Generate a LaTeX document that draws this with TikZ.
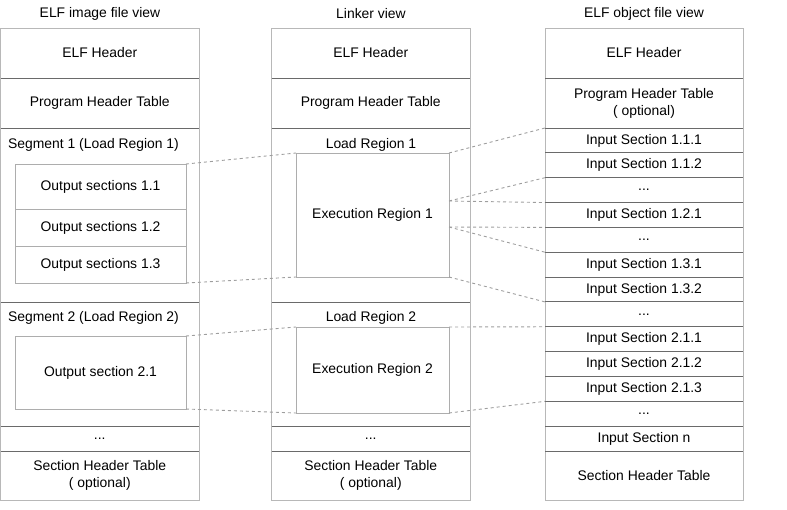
\documentclass[tikz,border=0pt]{standalone}
\usepackage{fontspec}
\setmainfont{Liberation Sans}
\definecolor{edgegray}{HTML}{B8B8B8}
\definecolor{sepgray}{HTML}{6A6A6A}
\definecolor{boxgray}{HTML}{ADADAD}
\definecolor{dashgray}{HTML}{9E9E9E}
% three dots used as filler rows
\newcommand\rowdots{...}
\begin{document}
\begin{tikzpicture}[x=1pt,y=-1pt,
  every node/.style={font=\fontsize{13.9}{17}\selectfont, text=black},
  colbox/.style={rectangle, draw=edgegray, line width=1pt, anchor=north west,
    inner sep=0pt, outer sep=0pt, align=center},
  leftcol/.style={colbox, minimum width=198.5pt},
  midcol/.style={colbox, minimum width=198.5pt},
  rightcol/.style={colbox, minimum width=198pt},
  innerbox/.style={rectangle, draw=boxgray, line width=1pt, anchor=north west,
    inner sep=0pt, outer sep=0pt, align=center},
  sepline/.style={draw=sepgray, line width=1pt},
  mapline/.style={draw=dashgray, line width=0.9pt, dash pattern=on 3pt off 3pt},
  heading/.style={inner sep=0pt}
]
\useasboundingbox (0,0) rectangle (787,509);

% column headings
\node[heading] (t1) at (100,14) {ELF image file view};
\node[heading] (t2) at (371,14) {Linker view};
\node[heading] (t3) at (644,14) {ELF object file view};

% ---------------- ELF image file view ----------------
\node[leftcol, minimum height=50pt]  (eh1)  at (0.5,28)  {ELF Header};
\node[leftcol, minimum height=50pt]  (pht1) at (0.5,78)  {Program Header Table};
\node[leftcol, minimum height=174pt] (seg1) at (0.5,128) {};
\node[leftcol, minimum height=124pt] (seg2) at (0.5,302) {};
\node[leftcol, minimum height=25pt]  (dots1) at (0.5,426) {\rowdots};
\node[leftcol, minimum height=49pt]  (sht1) at (0.5,451) {Section Header Table\\( optional)};
\node[heading] (seg1t) at (93.5,144.5) {Segment 1 (Load Region 1)};
\node[heading] (seg2t) at (93.5,317.5) {Segment 2 (Load Region 2)};

\node[innerbox, minimum width=171pt, minimum height=45pt] (o11) at (15,164) {Output sections 1.1};
\node[innerbox, minimum width=171pt, minimum height=37pt] (o12) at (15,209) {Output sections 1.2};
\node[innerbox, minimum width=171pt, minimum height=37pt] (o13) at (15,246) {Output sections 1.3};
\node[innerbox, minimum width=171pt, minimum height=73pt] (o21) at (15,336) {Output section 2.1};

% ---------------- Linker view ----------------
\node[midcol, minimum height=50pt]  (eh2)  at (271.5,28)  {ELF Header};
\node[midcol, minimum height=50pt]  (pht2) at (271.5,78)  {Program Header Table};
\node[midcol, minimum height=174pt] (lr1)  at (271.5,128) {};
\node[midcol, minimum height=124pt] (lr2)  at (271.5,302) {};
\node[midcol, minimum height=25pt]  (dots2) at (271.5,426) {\rowdots};
\node[midcol, minimum height=49pt]  (sht2) at (271.5,451) {Section Header Table\\( optional)};
\node[heading] (lr1t) at (371,144.5) {Load Region 1};
\node[heading] (lr2t) at (371,317.5) {Load Region 2};

\node[innerbox, minimum width=153pt, minimum height=124pt] (er1) at (296,153) {Execution Region 1};
\node[innerbox, minimum width=153pt, minimum height=86pt]  (er2) at (296,327) {Execution Region 2};

% ---------------- ELF object file view ----------------
\node[rightcol, minimum height=50pt] (eh3)  at (545,28) {ELF Header};
\node[rightcol, minimum height=50pt] (pht3) at (545,78) {Program Header Table\\( optional)};
\foreach \nm/\txt [count=\i from 0] in {
    is111/Input Section 1.1.1, is112/Input Section 1.1.2, dotsA/\rowdots,
    is121/Input Section 1.2.1, dotsB/\rowdots, is131/Input Section 1.3.1,
    is132/Input Section 1.3.2, dotsC/\rowdots, is211/Input Section 2.1.1,
    is212/Input Section 2.1.2, is213/Input Section 2.1.3, dotsD/\rowdots,
    isn/Input Section n}
  \node[rightcol, minimum height=24.846pt] (\nm) at (545,{128+\i*24.846}) {\txt};
\node[rightcol, minimum height=49pt] (sht3) at (545,451) {Section Header Table};

% darker separators between stacked rows
\foreach \n in {eh1,pht1,seg1,seg2,dots1,eh2,pht2,lr1,lr2,dots2,eh3,pht3,
    is111,is112,dotsA,is121,dotsB,is131,is132,dotsC,is211,is212,is213,dotsD,isn}
  \draw[sepline] (\n.south west) -- (\n.south east);

% attachment points on the right side of execution region 1
\coordinate (erA) at (449,201);
\coordinate (erB) at (449,227);

% mapping lines
\draw[mapline] (o11.north east) -- (er1.north west);
\draw[mapline] (o13.south east) -- (er1.south west);
\draw[mapline] (o21.north east) -- (er2.north west);
\draw[mapline] (o21.south east) -- (er2.south west);

\draw[mapline] (er1.north east) -- (is111.north west);
\draw[mapline] (erA) -- (dotsA.north west);
\draw[mapline] (erA) -- (is121.north west);
\draw[mapline] (erB) -- (dotsB.north west);
\draw[mapline] (erB) -- (is131.north west);
\draw[mapline] (er1.south east) -- (dotsC.north west);
\draw[mapline] (er2.north east) -- (is211.north west);
\draw[mapline] (er2.south east) -- (dotsD.north west);
\end{tikzpicture}
\end{document}
